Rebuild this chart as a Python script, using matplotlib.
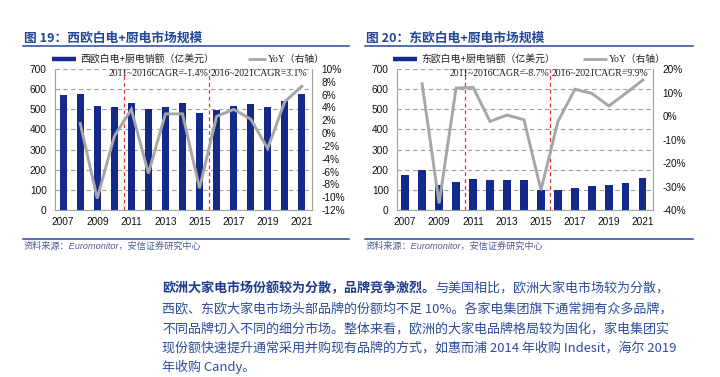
import matplotlib
matplotlib.use("Agg")
import matplotlib.pyplot as plt
from matplotlib.lines import Line2D
import numpy as np

plt.rcParams['font.family'] = ['Liberation Sans', 'Noto Sans CJK SC', 'DejaVu Sans']

# ---------------- data ----------------
years = [2007, 2008, 2009, 2010, 2011, 2012, 2013, 2014, 2015, 2016, 2017, 2018, 2019, 2020, 2021]
xtick_years = [2007, 2009, 2011, 2013, 2015, 2017, 2019, 2021]

west_sales = [570, 577, 517, 513, 533, 500, 513, 530, 483, 498, 515, 525, 512, 540, 578]
west_yoy = [None, 1.5, -10.2, -0.5, 3.7, -6.3, 3.0, 3.0, -8.6, 2.6, 3.7, 2.2, -2.4, 4.9, 7.3]

east_sales = [173, 197, 122, 137, 153, 150, 150, 147, 100, 97, 108, 118, 123, 135, 157]
east_yoy = [None, 13.7, -37.2, 11.9, 12.2, -2.3, 0.4, -1.6, -31.5, -2.3, 11.4, 9.6, 4.3, 9.7, 15.3]

west_title = "图 19：西欧白电+厨电市场规模"
east_title = "图 20：东欧白电+厨电市场规模"
west_bar_label = "西欧白电+厨电销额（亿美元）"
east_bar_label = "东欧白电+厨电销额（亿美元）"
line_label = "YoY（右轴）"
west_cagr = ["2011~2016CAGR=-1.4%", "2016~2021CAGR=3.1%"]
east_cagr = ["2011~2016CAGR=-8.7%", "2016~2021CAGR=9.9%"]
cagr_split = [2010.55, 2015.55]
source = "资料来源：Euromonitor，安信证券研究中心"

para_bold = "欧洲大家电市场份额较为分散，品牌竞争激烈。"
para_lines = [
    "与美国相比，欧洲大家电市场较为分散，",
    "西欧、东欧大家电市场头部品牌的份额均不足 10%。各家电集团旗下通常拥有众多品牌，",
    "不同品牌切入不同的细分市场。整体来看，欧洲的大家电品牌格局较为固化，家电集团实",
    "现份额快速提升通常采用并购现有品牌的方式，如惠而浦 2014 年收购 Indesit，海尔 2019",
    "年收购 Candy。",
]

# ---------------- style ----------------
BAR = '#13298C'
LINE = '#A6A6A6'
BLUE = '#24479A'
TXT = '#2D4C9E'
GRID = '#A0A0A0'
W, H = 720, 377

fig = plt.figure(figsize=(7.2, 3.77), dpi=100)

def fx(px):
    return px / W

def fy(py):
    return 1 - py / H

def panel(left_px, right_px, sales, yoy, ylim2, yticks2, cagr, title, bar_label,
          rule_l, rule_r, leg_x, leg_gap):
    ax = fig.add_axes([fx(left_px), fy(210), fx(right_px - left_px), (210 - 69) / H])
    ax.bar(years, sales, width=0.43, color=BAR, zorder=2)
    ax.set_xlim(2006.52, 2021.6)
    ax.set_ylim(0, 700)
    ax.set_yticks(range(0, 701, 100))
    ax.set_xticks(xtick_years)
    ax.set_xticklabels([str(y) for y in xtick_years])
    ax.yaxis.grid(True, linestyle=(0, (4, 3)), color=GRID, linewidth=0.8, zorder=0)
    ax.set_axisbelow(True)
    for s in ['left', 'right', 'bottom']:
        ax.spines[s].set_color(GRID)
        ax.spines[s].set_linewidth(0.8)
    ax.spines['top'].set_visible(False)
    ax.tick_params(length=0, labelsize=7.3, pad=6, colors='#111111')
    ax.tick_params(axis='x', pad=5)
    for xv in cagr_split:
        ax.axvline(xv, ymin=0, ymax=1, color='#E03030', linestyle=(0, (3, 2.5)),
                   linewidth=0.9, zorder=3)

    ax2 = ax.twinx()
    yy = [np.nan if v is None else v for v in yoy]
    ax2.plot(years, yy, color=LINE, linewidth=2.1, zorder=4, solid_joinstyle='miter')
    ax2.set_ylim(*ylim2)
    ax2.set_yticks(yticks2)
    ax2.set_yticklabels([f"{t}%" for t in yticks2])
    ax2.tick_params(length=0, labelsize=7.3, pad=7, colors='#111111')
    for s in ['left', 'right', 'bottom', 'top']:
        ax2.spines[s].set_visible(False)
    ax2.set_xlim(ax.get_xlim())

    ax.text(cagr_split[1] - 0.05, 680, cagr[0], ha='right', va='center',
            fontsize=7.0, family='Liberation Serif', color='#222222', zorder=6)
    ax.text(cagr_split[1] + 0.08, 680, cagr[1], ha='left', va='center',
            fontsize=7.0, family='Liberation Serif', color='#222222', zorder=6)

    # title and rules
    fig.text(fx(rule_l + 1), fy(38), title, fontsize=9.2, fontweight='bold',
             color=BLUE, family=['Noto Sans CJK SC', 'DejaVu Sans'], ha='left', va='center')
    fig.add_artist(Line2D([fx(rule_l), fx(rule_r)], [fy(45.5), fy(45.5)], color=BLUE, linewidth=1.1))
    fig.add_artist(Line2D([fx(rule_l), fx(rule_r)], [fy(239), fy(239)], color=BLUE, linewidth=1.1))
    fig.text(fx(rule_l + 1), fy(246.5), source, fontsize=6.6, style='italic',
             color='#4B5E96', family=['Liberation Sans', 'Noto Sans CJK SC'], ha='left', va='center')

    # legend
    fig.add_artist(Line2D([fx(leg_x), fx(leg_x + 24)], [fy(59), fy(59)], color=BAR, linewidth=3.2,
                          solid_capstyle='butt'))
    fig.text(fx(leg_x + 28), fy(59), bar_label, fontsize=7.1, color='#222222',
             family=['Noto Sans CJK SC', 'DejaVu Sans'], ha='left', va='center')
    fig.add_artist(Line2D([fx(leg_x + leg_gap), fx(leg_x + 214)], [fy(59), fy(59)], color=LINE,
                          linewidth=2.0, solid_capstyle='butt'))
    fig.text(fx(leg_x + 216), fy(59), line_label, fontsize=7.0, color='#222222',
             family=['Liberation Serif', 'Noto Sans CJK SC'], ha='left', va='center')
    return ax, ax2

panel(55, 312, west_sales, west_yoy, (-12, 10), list(range(-12, 11, 2)), west_cagr,
      west_title, west_bar_label, 23, 349, 52, 196)
panel(397, 653, east_sales, east_yoy, (-40, 20), list(range(-40, 21, 10)), east_cagr,
      east_title, east_bar_label, 365, 693, 393, 190)

# paragraph
cjk = ['Noto Sans CJK SC', 'DejaVu Sans']
fig.canvas.draw()
r = fig.canvas.get_renderer()
t0 = fig.text(fx(162), fy(288), para_bold, fontsize=9.4, fontweight='bold', color='#1E3B8F',
              family=cjk, ha='left', va='center')
bb = t0.get_window_extent(renderer=r)
fig.text(bb.x1 / W, fy(288), para_lines[0], fontsize=9.4, color=TXT, family=cjk,
         ha='left', va='center')
ys = [309, 329, 348, 367]
for yv, line in zip(ys, para_lines[1:]):
    fig.text(fx(162), fy(yv), line, fontsize=9.4, color=TXT, family=cjk, ha='left', va='center')

fig.savefig('out.png', dpi=100)
